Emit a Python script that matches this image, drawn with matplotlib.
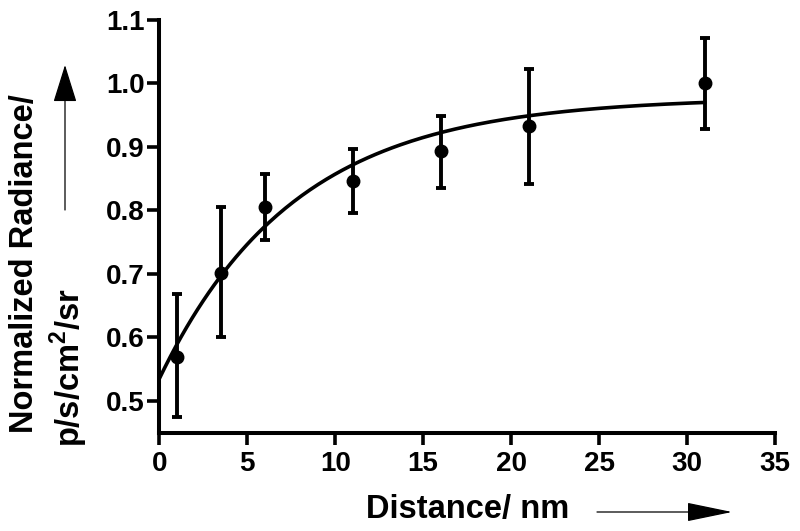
import numpy as np
import matplotlib
matplotlib.use("Agg")
import matplotlib.pyplot as plt
from matplotlib.patches import FancyArrowPatch

plt.rcParams['font.family'] = ['Liberation Sans', 'DejaVu Sans']
plt.rcParams['font.weight'] = 'bold'
plt.rcParams['mathtext.fontset'] = 'custom'
plt.rcParams['mathtext.rm'] = 'Liberation Sans:bold'
plt.rcParams['mathtext.bf'] = 'Liberation Sans:bold'

# measured points (distance in nm, normalized radiance, error bar half-widths)
distance = [1, 3.5, 6, 11, 16, 21, 31]
radiance = [0.570, 0.702, 0.806, 0.847, 0.893, 0.933, 1.000]
err_low = [0.095, 0.102, 0.052, 0.051, 0.057, 0.091, 0.072]
err_high = [0.098, 0.104, 0.052, 0.050, 0.056, 0.090, 0.072]

# one-phase association fit
fit_y0 = 0.535
fit_plateau = 0.978
fit_k = 0.13
fit_xmax = 31

x_ticks = [0, 5, 10, 15, 20, 25, 30, 35]
y_ticks = [0.5, 0.6, 0.7, 0.8, 0.9, 1.0, 1.1]

W, H = 800, 531
fig = plt.figure(figsize=(W / 100, H / 100), dpi=100)
ax = fig.add_axes([159.3 / W, 1 - 432.7 / H, (775 - 159.3) / W, (432.7 - 20) / H])

xs = np.linspace(0, fit_xmax, 200)
ax.plot(xs, fit_y0 + (fit_plateau - fit_y0) * (1 - np.exp(-fit_k * xs)),
        color='black', lw=2.6, zorder=2)
ax.errorbar(distance, radiance, yerr=[err_low, err_high], fmt='o', color='black',
            ms=9, elinewidth=2.8, capsize=3.5, capthick=2.8, zorder=3)

ax.set_xlim(0, 35)
ax.set_ylim(0.45, 1.1)
ax.set_xticks(x_ticks)
ax.set_yticks(y_ticks)
ax.set_yticklabels(['%.1f' % v for v in y_ticks])
ax.spines['top'].set_visible(False)
ax.spines['right'].set_visible(False)
for s in ('left', 'bottom'):
    ax.spines[s].set_linewidth(2.9)
ax.tick_params(width=2.6, length=8.5, labelsize=20, direction='out')
ax.tick_params(axis='x', pad=5)
ax.tick_params(axis='y', pad=2)
for lab in ax.get_xticklabels() + ax.get_yticklabels():
    lab.set_fontweight('bold')

# axis titles with arrows
fig.text(468 / W, 1 - 518 / H, 'Distance/ nm', fontsize=23.5, fontweight='bold',
         ha='center', va='baseline')
fig.text(33 / W, 1 - 264 / H, 'Normalized Radiance/', fontsize=23.5, fontweight='bold',
         rotation=90, rotation_mode='anchor', ha='center', va='baseline')
fig.text(80 / W, 1 - 368 / H, r'p/s/cm$^{\mathbf{2}}$/sr', fontsize=23.5, fontweight='bold',
         rotation=90, rotation_mode='anchor', ha='center', va='baseline')

fig.patches.append(FancyArrowPatch((597 / W, 1 - 512 / H), (732 / W, 1 - 512 / H),
                                   transform=fig.transFigure, arrowstyle='-|>,head_length=2.9,head_width=0.6',
                                   mutation_scale=10, lw=0.9, color='black', shrinkA=0, shrinkB=0))
fig.patches.append(FancyArrowPatch((65 / W, 1 - 210 / H), (65 / W, 1 - 65 / H),
                                   transform=fig.transFigure, arrowstyle='-|>,head_length=2.4,head_width=0.75',
                                   mutation_scale=10, lw=0.9, color='black', shrinkA=0, shrinkB=0))

fig.savefig('out.png', dpi=100)
